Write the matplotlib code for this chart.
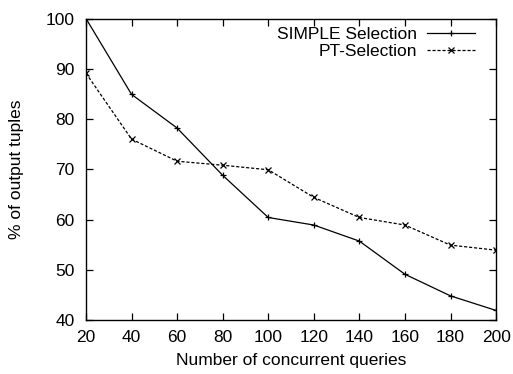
import numpy as np
import matplotlib
matplotlib.use("Agg")
import matplotlib.pyplot as plt

plt.rcParams['font.family'] = ['Liberation Sans', 'DejaVu Sans']

queries = [20, 40, 60, 80, 100, 120, 140, 160, 180, 200]
simple_sel = [100, 84.9, 78.2, 68.8, 60.4, 58.9, 55.7, 49.1, 44.8, 41.9]
pt_sel = [89.1, 76.0, 71.6, 70.8, 69.9, 64.4, 60.4, 58.9, 54.9, 53.9]

fs = 12.5

fig = plt.figure(figsize=(5.13, 3.74), dpi=100)
ax = fig.add_axes([0.1676, 0.1444, 0.7994, 0.8061])

ax.plot(queries, simple_sel, color='black', linewidth=0.9, linestyle='-',
        marker='+', markersize=5, markeredgewidth=0.9, label='SIMPLE Selection')
ax.plot(queries, pt_sel, color='black', linewidth=0.9, linestyle=(0, (2.5, 1.5)),
        marker='x', markersize=4, markeredgewidth=0.9, label='PT-Selection')

ax.set_xlim(20, 200)
ax.set_ylim(40, 100)
ax.set_xticks(queries)
ax.set_yticks(np.arange(40, 101, 10))
ax.tick_params(direction='in', top=True, right=True, length=5, width=0.9,
               labelsize=fs)
ax.tick_params(axis='x', pad=7)
ax.tick_params(axis='y', pad=8)
for s in ax.spines.values():
    s.set_linewidth(1.0)

ax.set_xlabel('Number of concurrent queries', fontsize=fs, labelpad=6)
ax.set_ylabel('% of output tuples', fontsize=fs, labelpad=16)

ax.legend(loc='upper right', bbox_to_anchor=(0.949, 0.972), frameon=False,
          markerfirst=False, fontsize=fs, handlelength=2.75, handletextpad=0.6,
          labelspacing=0.1, borderaxespad=0, borderpad=0)

fig.savefig('out.png', dpi=100)
